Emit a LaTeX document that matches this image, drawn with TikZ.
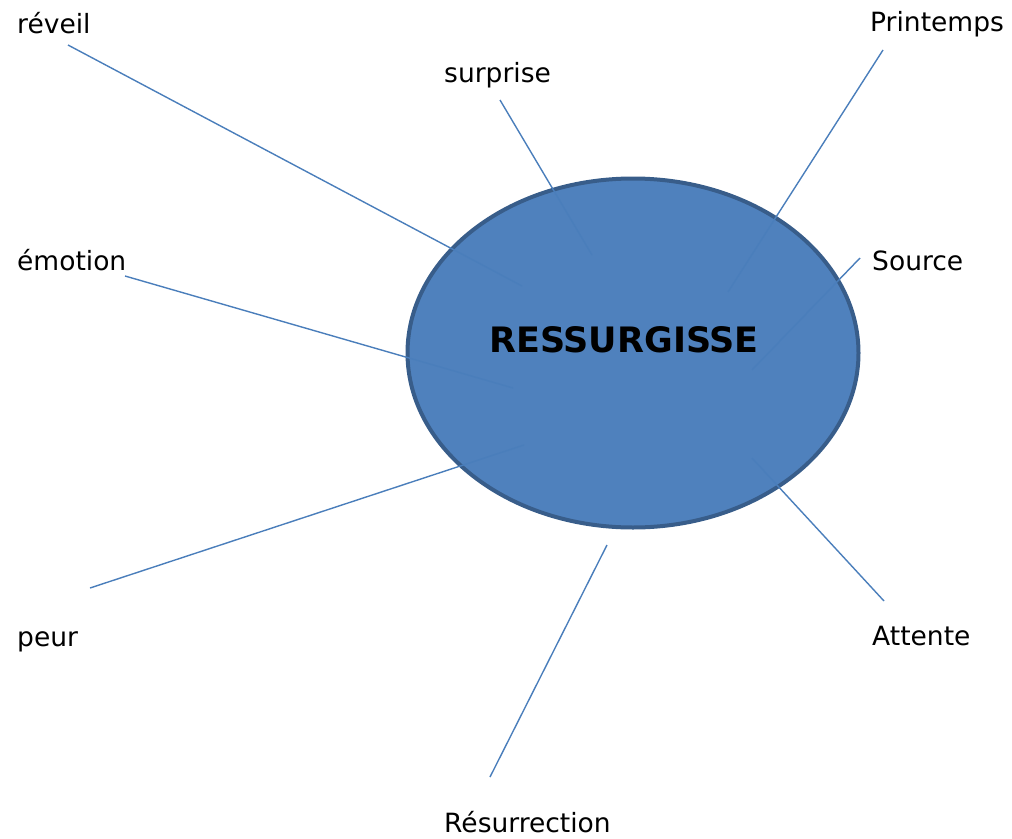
\documentclass[tikz,border=0pt]{standalone}
\usepackage{fontspec}
\setmainfont{DejaVu Sans}
\usetikzlibrary{shapes.geometric}
\definecolor{bulle}{HTML}{4F81BD}
\definecolor{bord}{HTML}{385D8A}
\definecolor{trait}{HTML}{4A7EBB}
\tikzset{
    mot/.style={anchor=base west, inner sep=0pt, font=\fontsize{26.5}{30}\selectfont},
    rayon/.style={draw=trait, line width=1.4pt}
}
\begin{document}
\begin{tikzpicture}[x=1pt, y=-1pt]

    \useasboundingbox (0,0) rectangle (1012,838);

    \node [ellipse, draw=bord, line width=4pt, fill=bulle, minimum width=451pt, minimum height=349pt] (E) at (633,353) {};
    \node [font=\fontsize{35}{40}\selectfont\bfseries] (T) at (624,340) {RESSURGISSE};

    \node [mot] (A) at (17,33) {réveil};
    \node [mot] (B) at (444,82) {surprise};
    \node [mot] (C) at (870,31) {Printemps};
    \node [mot] (D) at (17,270) {émotion};
    \node [mot] (F) at (872,270) {Source};
    \node [mot] (G) at (17,646) {peur};
    \node [mot] (H) at (872,645) {Attente};
    \node [mot] (I) at (444,832) {Résurrection};

    \coordinate (a1) at (68,45);   \coordinate (a2) at (522,286);
    \coordinate (b1) at (500,100); \coordinate (b2) at (592,255);
    \coordinate (c1) at (883,50);  \coordinate (c2) at (728,292);
    \coordinate (d1) at (125,276); \coordinate (d2) at (513,388);
    \coordinate (f1) at (860,258); \coordinate (f2) at (752,370);
    \coordinate (g1) at (90,588);  \coordinate (g2) at (524,445);
    \coordinate (h1) at (884,601); \coordinate (h2) at (752,458);
    \coordinate (i1) at (490,777); \coordinate (i2) at (607,545);

    \draw[rayon] (a1) -- (a2);
    \draw[rayon] (b1) -- (b2);
    \draw[rayon] (c1) -- (c2);
    \draw[rayon] (d1) -- (d2);
    \draw[rayon] (f1) -- (f2);
    \draw[rayon] (g1) -- (g2);
    \draw[rayon] (h1) -- (h2);
    \draw[rayon] (i1) -- (i2);

\end{tikzpicture}
\end{document}
